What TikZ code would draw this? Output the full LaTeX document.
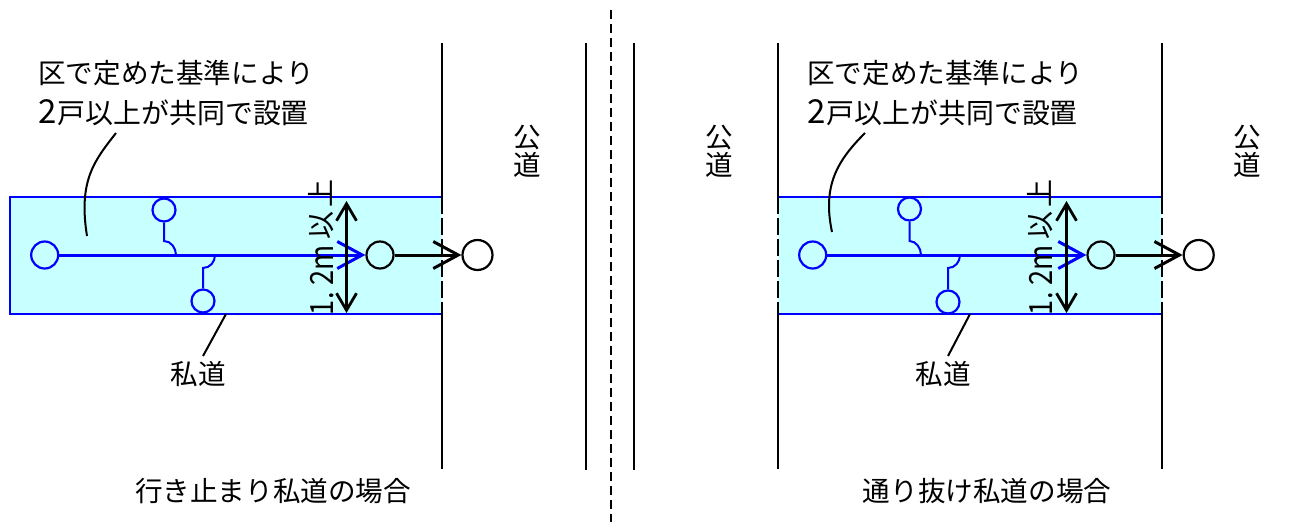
\documentclass[tikz,border=0pt]{standalone}
\usepackage{fontspec}
\usepackage{graphicx}
\setmainfont{Noto Sans CJK JP}
\usetikzlibrary{arrows.meta}
\definecolor{roadblue}{RGB}{0,0,255}
\definecolor{roadfill}{RGB}{200,255,255}
\newcommand{\secondline}{{\fontsize{27.9}{40}\selectfont\makebox[19.5pt][l]{\kern.5pt\fontsize{33}{40}\selectfont 2}戸以上が共同で設置}}
\newcommand{\widthtext}{\scalebox{.85}[1]{\fontsize{32}{40}\selectfont 1\kern1pt.\kern7.5pt 2\kern0pt m}\kern6pt\raisebox{2pt}{\fontsize{28}{40}\selectfont 以\kern4pt 上}}
\tikzset{
  x=1pt,y=-1pt,
  wall/.style={draw=black,line width=2.2pt},
  wallgap/.style={draw=black,line width=2.2pt,dash pattern=on 17pt off 4pt},
  edgeblue/.style={draw=roadblue,line width=2pt},
  pipe/.style={draw=roadblue,line width=2pt},
  main/.style={draw=roadblue,line width=3pt,-{Straight Barb[length=25pt,width=27pt,line width=3pt]}},
  mainb/.style={draw=black,line width=3pt,-{Straight Barb[length=25pt,width=27pt,line width=3pt]}},
  dim/.style={draw=black,line width=2.8pt,{Straight Barb[length=17pt,width=20pt,line width=2.8pt]}-{Straight Barb[length=17pt,width=20pt,line width=2.8pt]}},
  leader/.style={draw=black,line width=2pt},
  bc/.style={circle,draw=roadblue,line width=2.2pt,inner sep=0pt,minimum size=27pt},
  bs/.style={circle,draw=roadblue,line width=2.2pt,inner sep=0pt,minimum size=23pt},
  kc/.style={circle,draw=black,line width=2.2pt,inner sep=0pt,minimum size=27pt},
  kl/.style={circle,draw=black,line width=2.2pt,inner sep=0pt,minimum size=30pt},
  lab/.style={inner sep=0pt,font=\fontsize{27.6}{40}\selectfont,text=black},
  labr/.style={inner sep=0pt,text=black,rotate=90,anchor=base west},
  labl/.style={lab,align=left,anchor=north west},
  stack/.style={lab,align=center},
}
\begin{document}
\begin{tikzpicture}
\useasboundingbox (0,0) rectangle (1296,528);
\fill[roadfill] (10,197) rectangle (442,314);
\coordinate (lA) at (442,197); \coordinate (lB) at (442,314);
\coordinate (rA) at (778,197); \coordinate (rB) at (778,314);
\coordinate (rC) at (1162,197); \coordinate (rD) at (1162,314);
\fill[roadfill] (rA) rectangle (rD);
\draw[edgeblue] (lA) -- (10,197) -- (10,314) -- (lB);
\draw[edgeblue] (rA) -- (rC);
\draw[edgeblue] (rB) -- (rD);
\coordinate (w1t) at (442,43); \coordinate (w1b) at (442,469);
\draw[wall] (w1t) -- (lA); \draw[wallgap] (lA) -- (lB); \draw[wall] (lB) -- (w1b);
\coordinate (w2t) at (586,43); \coordinate (w2b) at (586,470);
\draw[wall] (w2t) -- (w2b);
\coordinate (w3t) at (634,43); \coordinate (w3b) at (634,470);
\draw[wall] (w3t) -- (w3b);
\coordinate (w4t) at (778,43); \coordinate (w4b) at (778,469);
\draw[wall] (w4t) -- (rA); \draw[wallgap] (rA) -- (rB); \draw[wall] (rB) -- (w4b);
\coordinate (w5t) at (1162,43); \coordinate (w5b) at (1162,469);
\draw[wall] (w5t) -- (rC); \draw[wallgap] (rC) -- (rD); \draw[wall] (rD) -- (w5b);
\coordinate (d1) at (611,10); \coordinate (d2) at (611,522);
\draw[draw=black,line width=2.2pt,dash pattern=on 8.5pt off 5.5pt] (d1) -- (d2);
% left network
\node[bc] (la) at (44.7,255) {};
\node[kc] (lk) at (380,255) {};
\node[kl] (lo) at (477.5,255) {};
\node[bs] (lt) at (164,210) {};
\node[bs] (lu) at (203,301) {};
\draw[main] (la.east) -- (lk.west);
\draw[mainb] (lk.east) -- (lo.west);
\coordinate (lj1) at (176,255); \coordinate (lj2) at (215,255);
\draw[pipe] (lt.south) -- (164,241) .. controls (171,241) and (176,248) .. (lj1);
\draw[pipe] (lu.north) -- (203,268) .. controls (210,268) and (215,262) .. (lj2);
\coordinate (ldt) at (346.5,201); \coordinate (ldb) at (346.5,313);
\draw[dim] (ldt) -- (ldb);
% right network
\node[bc] (ra) at (812.7,255) {};
\node[kc] (rk) at (1101,255) {};
\node[kl] (ro) at (1198.7,255) {};
\node[bs] (rt) at (909.5,209) {};
\node[bs] (ru) at (948,302) {};
\draw[main] (ra.east) -- (rk.west);
\draw[mainb] (rk.east) -- (ro.west);
\coordinate (rj1) at (921,255); \coordinate (rj2) at (960,255);
\draw[pipe] (rt.south) -- (909.5,241) .. controls (916,241) and (921,248) .. (rj1);
\draw[pipe] (ru.north) -- (948,268) .. controls (955,268) and (960,262) .. (rj2);
\coordinate (rdt) at (1066.5,201); \coordinate (rdb) at (1066.5,313);
\draw[dim] (rdt) -- (rdb);
% rotated labels
\node[labr] (lw) at (333,316) {\widthtext};
\node[labr] (rw) at (1052,316) {\widthtext};
% text
\node[labl] (ln) at (38,60) {区で定めた基準により\\\secondline};
\node[labl] (rn) at (807,60) {区で定めた基準により\\\secondline};
\node[lab] (lp) at (198,374) {私道};
\node[lab] (rp) at (943,374) {私道};
\node[stack] (k1) at (527,151) {公\\[-12pt]道};
\node[stack] (k2) at (719,151) {公\\[-12pt]道};
\node[stack] (k3) at (1247,151) {公\\[-12pt]道};
\node[lab] (c1) at (273,491) {行き止まり私道の場合};
\node[lab] (c2) at (987,491) {通り抜け私道の場合};
% leaders
\coordinate (ll1) at (116,133); \coordinate (ll2) at (87,236);
\draw[leader] (ll1) .. controls (95,160) and (78,180) .. (ll2);
\coordinate (rl1) at (865,133); \coordinate (rl2) at (832,232);
\draw[leader] (rl1) .. controls (838,160) and (822,185) .. (rl2);
\coordinate (lq1) at (226,314); \coordinate (lq2) at (203,356);
\draw[leader] (lq1) -- (lq2);
\coordinate (rq1) at (970,314); \coordinate (rq2) at (948,356);
\draw[leader] (rq1) -- (rq2);
\end{tikzpicture}
\end{document}
